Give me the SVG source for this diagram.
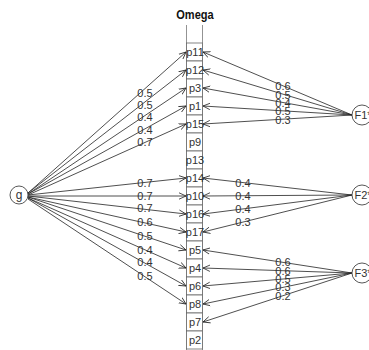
<svg xmlns="http://www.w3.org/2000/svg" width="369" height="350" viewBox="0 0 369 350">
<style>
text{font-family:"Liberation Sans",Arial,sans-serif;fill:#333}
.t{font-size:18px;font-weight:bold;fill:#111}
.c{font-size:11px;text-anchor:middle}
.l{font-size:11px;text-anchor:middle}
.e{stroke:#222;stroke-width:0.8;fill:none;marker-end:url(#a)}
.cell{fill:#fff;stroke:#666;stroke-width:0.8}
.n{fill:#fff;stroke:#444;stroke-width:0.9}
</style>
<defs>
<marker id="a" markerWidth="8" markerHeight="8" refX="7" refY="4" orient="auto" markerUnits="userSpaceOnUse">
<path d="M0,0.8 L7,4 L0,7.2" fill="none" stroke="#222" stroke-width="0.8"/>
</marker>
</defs>
<g id="omega">
<text class="t" x="195" y="19" text-anchor="middle" style="font-size:13px" transform="translate(195 0) scale(0.85 1) translate(-195 0)">Omega</text>
<line x1="186.5" y1="25" x2="186.5" y2="350" stroke="#777" stroke-width="0.8"/>
<line x1="202.5" y1="25" x2="202.5" y2="350" stroke="#777" stroke-width="0.8"/>
</g>
<g id="cells">
<g id="p11"><rect class="cell" x="186.5" y="43" width="16" height="18"/><text class="c" x="195" y="56">p11</text></g>
<g id="p12"><rect class="cell" x="186.5" y="61" width="16" height="18"/><text class="c" x="195" y="74">p12</text></g>
<g id="p3"><rect class="cell" x="186.5" y="79" width="16" height="18"/><text class="c" x="195" y="92">p3</text></g>
<g id="p1"><rect class="cell" x="186.5" y="97" width="16" height="18"/><text class="c" x="195" y="110">p1</text></g>
<g id="p15"><rect class="cell" x="186.5" y="115" width="16" height="18"/><text class="c" x="195" y="128">p15</text></g>
<g id="p9"><rect class="cell" x="186.5" y="133" width="16" height="18"/><text class="c" x="195" y="146">p9</text></g>
<g id="p13"><rect class="cell" x="186.5" y="151" width="16" height="18"/><text class="c" x="195" y="164">p13</text></g>
<g id="p14"><rect class="cell" x="186.5" y="169" width="16" height="18"/><text class="c" x="195" y="182">p14</text></g>
<g id="p10"><rect class="cell" x="186.5" y="187" width="16" height="18"/><text class="c" x="195" y="200">p10</text></g>
<g id="p16"><rect class="cell" x="186.5" y="205" width="16" height="18"/><text class="c" x="195" y="218">p16</text></g>
<g id="p17"><rect class="cell" x="186.5" y="223" width="16" height="18"/><text class="c" x="195" y="236">p17</text></g>
<g id="p5"><rect class="cell" x="186.5" y="241" width="16" height="18"/><text class="c" x="195" y="254">p5</text></g>
<g id="p4"><rect class="cell" x="186.5" y="259" width="16" height="18"/><text class="c" x="195" y="272">p4</text></g>
<g id="p6"><rect class="cell" x="186.5" y="277" width="16" height="18"/><text class="c" x="195" y="290">p6</text></g>
<g id="p8"><rect class="cell" x="186.5" y="295" width="16" height="18"/><text class="c" x="195" y="308">p8</text></g>
<g id="p7"><rect class="cell" x="186.5" y="313" width="16" height="18"/><text class="c" x="195" y="326">p7</text></g>
<g id="p2"><rect class="cell" x="186.5" y="331" width="16" height="18"/><text class="c" x="195" y="344">p2</text></g>
</g>
<g id="connectors">
<line class="e" x1="28" y1="193" x2="186" y2="52"/>
<line class="e" x1="28" y1="193" x2="186" y2="70"/>
<line class="e" x1="28" y1="194" x2="186" y2="88"/>
<line class="e" x1="28" y1="194" x2="186" y2="106"/>
<line class="e" x1="28" y1="195" x2="186" y2="124"/>
<line class="e" x1="28" y1="195" x2="186" y2="178"/>
<line class="e" x1="28" y1="196" x2="186" y2="196"/>
<line class="e" x1="28" y1="196" x2="186" y2="214"/>
<line class="e" x1="28" y1="197" x2="186" y2="232"/>
<line class="e" x1="28" y1="197" x2="186" y2="250"/>
<line class="e" x1="28" y1="198" x2="186" y2="268"/>
<line class="e" x1="28" y1="198" x2="186" y2="286"/>
<line class="e" x1="28" y1="199" x2="186" y2="304"/>
<line class="e" x1="352" y1="115" x2="203" y2="52"/>
<line class="e" x1="352" y1="115" x2="203" y2="70"/>
<line class="e" x1="352" y1="115" x2="203" y2="88"/>
<line class="e" x1="352" y1="115" x2="203" y2="106"/>
<line class="e" x1="352" y1="115" x2="203" y2="124"/>
<line class="e" x1="352" y1="195" x2="203" y2="178"/>
<line class="e" x1="352" y1="195" x2="203" y2="196"/>
<line class="e" x1="352" y1="195" x2="203" y2="214"/>
<line class="e" x1="352" y1="195" x2="203" y2="232"/>
<line class="e" x1="352" y1="273" x2="203" y2="250"/>
<line class="e" x1="352" y1="273" x2="203" y2="268"/>
<line class="e" x1="352" y1="273" x2="203" y2="286"/>
<line class="e" x1="352" y1="273" x2="203" y2="304"/>
<line class="e" x1="352" y1="273" x2="203" y2="322"/>
</g>
<g id="labels">
<text class="l" x="145" y="97">0.5</text>
<text class="l" x="145" y="109">0.5</text>
<text class="l" x="145" y="121">0.4</text>
<text class="l" x="145" y="134">0.4</text>
<text class="l" x="145" y="146">0.7</text>
<text class="l" x="145" y="187">0.7</text>
<text class="l" x="145" y="200">0.7</text>
<text class="l" x="145" y="212">0.7</text>
<text class="l" x="145" y="226">0.6</text>
<text class="l" x="145" y="240">0.5</text>
<text class="l" x="145" y="254">0.4</text>
<text class="l" x="145" y="266">0.4</text>
<text class="l" x="145" y="280">0.5</text>
<text class="l" x="283" y="90">0.6</text>
<text class="l" x="283" y="99">0.5</text>
<text class="l" x="283" y="107">0.4</text>
<text class="l" x="283" y="115">0.5</text>
<text class="l" x="283" y="124">0.3</text>
<text class="l" x="243" y="187">0.4</text>
<text class="l" x="243" y="200">0.4</text>
<text class="l" x="243" y="213">0.4</text>
<text class="l" x="243" y="226">0.3</text>
<text class="l" x="283" y="266">0.6</text>
<text class="l" x="283" y="275">0.6</text>
<text class="l" x="283" y="283">0.5</text>
<text class="l" x="283" y="291">0.3</text>
<text class="l" x="283" y="300">0.2</text>
</g>
<g id="g"><circle class="n" cx="19" cy="195" r="9"/><text class="c" x="19" y="199" style="font-size:12px">g</text></g>
<g id="F1"><circle class="n" cx="362" cy="115" r="10"/><text class="c" x="363" y="119" style="font-size:11px">F1*</text></g>
<g id="F2"><circle class="n" cx="362" cy="195" r="10"/><text class="c" x="363" y="199" style="font-size:11px">F2*</text></g>
<g id="F3"><circle class="n" cx="362" cy="273" r="10"/><text class="c" x="363" y="277" style="font-size:11px">F3*</text></g>
</svg>
